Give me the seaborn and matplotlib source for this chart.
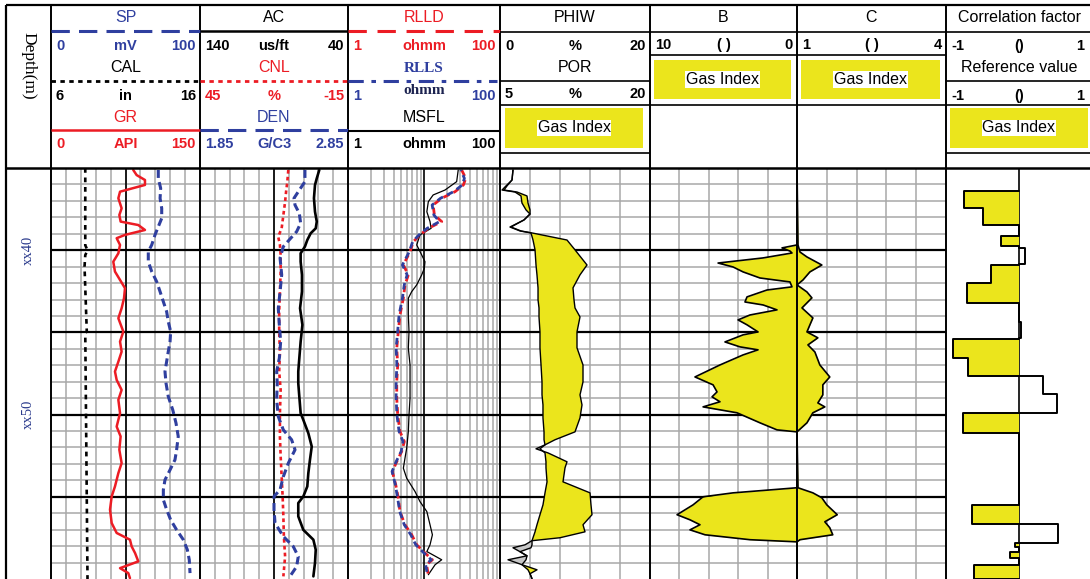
import numpy as np
import pandas as pd
import matplotlib
matplotlib.use("Agg")
import matplotlib.pyplot as plt
from matplotlib.patches import Rectangle
from matplotlib.transforms import blended_transform_factory
import seaborn as sns

# ------------------------------------------------------------------ data
depth_ticks = [40, 50]
depth_labels = ["xx40", "xx50"]

gr_depth = [35.12, 35.43, 35.73, 36.03, 36.44, 36.84, 37.45, 37.86, 38.26, 38.47, 38.77, 39.07,
            39.27, 39.68, 40.19, 40.70, 41.30, 41.81, 42.31, 42.92, 43.53, 44.14, 44.95, 45.56,
            46.17, 46.78, 47.38, 47.89, 48.50, 49.10, 49.91, 50.73, 51.33, 52.14, 52.95, 53.56,
            54.37, 54.98, 55.78, 56.60, 57.20, 57.61, 58.02, 58.42, 58.93, 59.34, 59.64, 59.95]
gr_api = [82.8, 86.2, 94.6, 94.6, 69.5, 67.8, 71.1, 68.8, 70.1, 87.9, 94.6, 74.5,
          66.1, 69.5, 67.8, 62.7, 64.4, 69.5, 74.5, 73.5, 71.1, 67.8, 72.8, 69.5,
          71.1, 67.8, 64.4, 66.1, 71.1, 67.8, 69.5, 66.1, 70.1, 68.8, 71.1, 67.8,
          64.4, 61.1, 59.4, 61.1, 66.1, 79.5, 81.2, 84.6, 87.9, 69.5, 77.8, 79.5]

sp_depth = [35.12, 35.63, 36.23, 36.84, 37.45, 38.06, 38.57, 39.07, 39.68, 40.09, 40.70, 41.30,
            41.91, 42.52, 43.13, 43.73, 44.34, 44.95, 45.56, 46.17, 46.78, 47.38, 48.09, 48.90,
            49.71, 50.52, 51.33, 52.14, 52.75, 53.36, 53.97, 54.57, 55.18, 55.78, 56.40, 57.01,
            57.61, 58.22, 58.83, 59.64]
sp_mv = [72.0, 72.0, 73.6, 73.2, 74.3, 74.3, 72.0, 69.8, 67.6, 65.3, 65.3, 67.6,
         70.9, 73.2, 75.4, 77.6, 78.7, 80.3, 79.9, 78.7, 77.6, 76.5, 77.2, 78.7,
         81.7, 83.9, 85.4, 84.3, 83.2, 79.9, 76.5, 75.4, 75.4, 77.6, 80.3, 84.3,
         88.8, 91.5, 92.8, 93.3]

cal_depth = [35.0, 39.7, 40.0, 40.3, 41.0, 44.9, 45.1, 50.0, 55.0, 60.0]
cal_in = [8.3, 8.3, 8.45, 8.3, 8.25, 8.4, 8.3, 8.35, 8.4, 8.45]

ac_depth = [35.12, 35.63, 36.03, 36.84, 37.66, 38.26, 38.67, 38.97, 39.38, 39.78, 40.19, 40.70,
            41.50, 42.52, 43.53, 44.54, 45.56, 46.57, 47.38, 48.09, 48.90, 49.91, 50.32, 51.13,
            51.94, 52.75, 53.56, 54.37, 54.98, 55.38, 56.19, 57.01, 57.61, 58.22, 59.03, 59.84]
ac_usft = [59.4, 61.1, 62.3, 63.0, 62.3, 61.1, 61.8, 65.2, 67.5, 69.1, 72.0, 72.0,
           71.1, 71.1, 72.4, 70.8, 72.0, 72.9, 73.6, 73.6, 72.9, 72.0, 70.2, 66.8,
           64.5, 65.7, 66.8, 67.5, 70.2, 73.6, 73.6, 70.2, 63.4, 61.8, 62.3, 63.4]

cnl_depth = [35.12, 35.83, 36.44, 37.05, 37.86, 38.67, 39.18, 39.68, 40.29, 41.30, 42.52, 43.73,
             44.95, 46.17, 47.38, 48.50, 49.91, 51.33, 52.55, 53.77, 54.98, 56.19, 57.41, 58.63,
             59.84]
cnl_pct = [9.2, 9.6, 10.1, 10.5, 11.2, 11.9, 13.3, 12.6, 12.3, 12.3, 12.6, 12.9,
           12.9, 12.6, 12.9, 12.3, 12.6, 12.6, 12.3, 11.9, 11.5, 11.2, 11.0, 10.5, 11.2]

den_depth = [35.12, 35.83, 36.44, 36.84, 37.25, 37.76, 38.36, 38.87, 39.27, 39.78, 40.48, 41.50,
             42.52, 43.53, 44.54, 45.56, 46.57, 47.38, 48.09, 49.10, 50.12, 50.93, 51.53, 52.14,
             52.95, 53.77, 54.57, 54.98, 55.78, 56.60, 57.41, 58.02, 58.63, 59.24, 59.84]
den_gcc = [2.559, 2.559, 2.514, 2.485, 2.492, 2.521, 2.530, 2.503, 2.463, 2.413, 2.391, 2.402,
           2.391, 2.379, 2.386, 2.395, 2.386, 2.368, 2.372, 2.368, 2.379, 2.413, 2.469, 2.492,
           2.447, 2.413, 2.391, 2.350, 2.350, 2.357, 2.413, 2.480, 2.514, 2.503, 2.458]

rl_depth = [35.12, 35.63, 36.03, 36.44, 36.84, 37.25, 37.86, 38.26, 38.67, 39.07, 39.48, 40.09,
            40.90, 41.50, 42.11, 42.92, 43.94, 44.95, 45.96, 46.98, 47.99, 49.00, 50.02, 51.03,
            51.64, 52.25, 52.86, 53.46, 54.27, 55.08, 55.90, 56.70, 57.31, 57.92, 58.42, 58.83,
            59.13, 59.74]
rlld_ohmm = [31.3, 35.4, 33.0, 25.6, 17.1, 13.2, 13.7, 17.1, 11.4, 8.85, 7.24, 6.55,
             5.35, 6.22, 5.62, 5.35, 4.83, 4.59, 4.38, 4.51, 4.38, 4.38, 4.51, 4.83,
             5.51, 5.08, 4.38, 3.83, 4.25, 4.59, 4.83, 5.62, 6.89, 8.02, 10.3, 12.9,
             10.8, 11.4]
rlls_ohmm = [30.5, 34.0, 32.0, 24.5, 16.5, 12.8, 13.5, 16.0, 11.0, 8.6, 7.1, 6.4,
             5.2, 6.0, 5.5, 5.2, 4.7, 4.5, 4.3, 4.4, 4.3, 4.3, 4.4, 4.7,
             5.3, 5.0, 4.3, 3.8, 4.2, 4.5, 4.8, 5.5, 6.7, 7.8, 10.0, 12.5,
             10.5, 11.1]

msfl_depth = [35.12, 35.83, 36.34, 36.64, 37.05, 37.66, 38.26, 38.67, 39.07, 39.68, 40.29, 40.70,
              41.10, 41.50, 42.11, 42.52, 42.92, 43.94, 44.95, 45.96, 46.98, 47.99, 49.00, 50.02,
              51.03, 52.04, 52.65, 53.26, 53.87, 54.68, 55.29, 55.90, 56.70, 57.31, 57.92, 58.33,
              58.83, 59.13, 59.74]
msfl_ohmm = [28.2, 26.9, 18.9, 13.2, 11.4, 10.9, 12.0, 12.4, 8.85, 8.02, 9.33, 10.3,
             10.1, 9.33, 8.02, 6.89, 6.22, 6.22, 6.35, 6.22, 6.55, 6.55, 6.55, 6.35,
             6.22, 5.92, 5.62, 5.35, 5.92, 7.62, 8.85, 10.9, 12.0, 12.9, 12.0, 10.9,
             17.1, 14.0, 11.4]

phi_depth = [35.12, 35.73, 36.09, 36.34, 36.46, 36.70, 37.13, 37.55, 37.80, 38.16, 38.59, 38.83,
             38.95, 39.38, 39.98, 40.90, 41.50, 42.29, 43.02, 43.51, 44.06, 44.97, 45.94, 46.98,
             48.01, 48.80, 49.41, 50.20, 51.05, 51.53, 51.84, 52.08, 52.33, 52.87, 53.24, 54.09,
             54.76, 55.49, 56.09, 56.70, 57.13, 57.49, 57.67, 57.92, 58.10, 58.34, 58.59, 58.83,
             59.13, 59.44, 59.68, 59.98]
phiw_pct = [1.73, 1.60, 0.80, 0.27, 2.00, 2.80, 2.93, 3.47, 4.00, 3.20, 1.33, 2.67,
            4.13, 4.40, 4.67, 4.80, 4.93, 5.07, 5.07, 5.20, 5.20, 5.33, 5.33, 5.47,
            5.60, 5.60, 5.73, 5.73, 5.87, 5.87, 6.00, 5.33, 6.00, 6.13, 6.13, 6.27,
            6.00, 5.73, 5.33, 4.93, 4.67, 4.40, 4.27, 4.27, 4.13, 2.67, 3.60, 3.47,
            2.93, 3.73, 4.00, 4.27]
por_pct = [6.3, 6.2, 5.7, 5.4, 6.7, 7.7, 7.8, 8.0, 8.0, 7.4, 6.1, 7.1,
           8.2, 11.7, 12.5, 13.7, 13.0, 12.3, 12.4, 12.5, 13.0, 12.7, 12.7, 13.3,
           13.3, 13.0, 13.2, 13.0, 12.5, 10.5, 9.5, 8.6, 9.8, 11.7, 11.5, 11.3,
           14.0, 14.1, 14.2, 13.3, 13.5, 11.0, 8.2, 7.5, 6.3, 7.0, 7.7, 5.8,
           7.2, 8.7, 8.0, 8.2]

b_depth = [35.0, 39.68, 39.86, 40.05, 40.17, 40.47, 40.78, 41.02, 41.32, 41.69, 41.93, 42.23,
           42.42, 42.84, 43.15, 43.33, 43.63, 43.94, 44.24, 44.54, 44.97, 45.15, 45.58, 45.88,
           46.06, 46.37, 46.98, 47.71, 48.19, 48.62, 48.92, 49.22, 49.53, 49.89, 50.50, 50.93,
           51.05, 54.45, 54.76, 55.00, 55.49, 56.09, 56.40, 56.70, 57.01, 57.31, 57.61, 57.74,
           60.0]
b_val = [0, 0, 1.02, 0.48, 0.34, 2.31, 5.37, 4.35, 3.67, 2.52, 0.48, 0.34,
         2.04, 3.40, 3.54, 2.31, 1.36, 3.20, 4.01, 3.40, 2.65, 3.67, 4.90, 3.88,
         2.65, 3.67, 5.24, 6.94, 5.71, 5.44, 5.78, 5.24, 6.39, 4.08, 2.52, 1.36,
         0, 0, 4.35, 6.39, 7.07, 8.16, 7.28, 6.60, 7.28, 6.26, 3.20, 0,
         0]

c_depth = [35.0, 39.68, 40.11, 40.41, 40.90, 41.32, 41.81, 42.11, 42.54, 42.90, 43.51, 44.12,
           44.54, 44.97, 45.33, 45.76, 46.19, 46.98, 47.71, 48.19, 48.80, 49.29, 49.53, 49.89,
           50.50, 51.05, 54.45, 54.76, 55.06, 55.49, 56.09, 56.52, 56.88, 57.31, 57.61, 57.74,
           60.0]
c_val = [1.0, 1.02, 1.06, 1.20, 1.50, 1.26, 1.12, 1.00, 1.20, 1.30, 1.10, 1.32,
         1.26, 1.20, 1.42, 1.22, 1.36, 1.46, 1.66, 1.52, 1.52, 1.42, 1.56, 1.32,
         1.20, 1.0, 1.02, 1.32, 1.50, 1.60, 1.81, 1.56, 1.66, 1.72, 1.06, 1.0,
         1.0]

corr_top = [36.40, 37.43, 39.13, 39.86, 40.90, 41.99, 44.36, 45.40, 46.55, 47.64, 48.74, 49.89,
            55.49, 56.64, 57.80, 58.34, 59.13]
corr_bot = [37.43, 38.47, 39.74, 40.84, 41.99, 43.21, 45.33, 46.55, 47.64, 48.74, 49.89, 51.11,
            56.64, 57.80, 58.04, 58.71, 60.0]
corr_val = [-0.75, -0.49, -0.25, 0.08, -0.38, -0.71, 0.03, -0.90, -0.70, 0.33, 0.52, -0.77,
            -0.64, 0.53, -0.05, -0.12, -0.61]

# ------------------------------------------------------------------ style
sns.set_theme(style="white")
plt.rcParams["font.family"] = ["Liberation Sans", "DejaVu Sans"]

RED = "#ec1c24"
BLUE = "#2f3f9f"
YEL = "#ebe51c"
GRID = "#a8a8a8"
GRAYFILL = "#c8c8c8"

W, H = 1090, 579
TOP, BOT = 168, 579
DMIN, DMAX = 35, 60
E = [6, 51, 200, 348, 500, 650, 797, 946, 1092]

fig = plt.figure(figsize=(W / 100, H / 100), dpi=100)
fig.patch.set_facecolor("white")
all_axes = []


def add_ax(x0, x1, xlim, log=False, zorder=1):
    ax = fig.add_axes([x0 / W, 1 - BOT / H, (x1 - x0) / W, (BOT - TOP) / H], zorder=zorder)
    if log:
        ax.set_xscale("log")
    ax.set_xlim(*xlim)
    ax.set_ylim(DMAX, DMIN)
    ax.set_facecolor("none")
    for s in ax.spines.values():
        s.set_visible(False)
    ax.grid(False)
    all_axes.append((ax, xlim))
    return ax


def grid_track(x0, x1, xlim, vlines, log=False, center=None, hgrid=True):
    ax = add_ax(x0, x1, xlim, log=log, zorder=1)
    for v in vlines:
        ax.axvline(v, color=GRID, lw=1.1, zorder=1)
    if hgrid:
        for d in range(DMIN + 1, DMAX):
            major = d % 5 == 0
            ax.axhline(d, color="black" if major else GRID, lw=1.6 if major else 1.1,
                       zorder=2 if major else 1)
    if center is not None:
        ax.axvline(center, color="black", lw=1.2, zorder=2)
    return ax


def curve(ax, x, d, color, lw, ls="-", z=5):
    sns.lineplot(x=x, y=d, orient="y", sort=False, estimator=None, ax=ax,
                 color=color, lw=lw, linestyle=ls, zorder=z)


# ---- track 1: SP / CAL / GR
ax1 = grid_track(E[1], E[2], (0, 150), np.arange(15, 150, 15), center=75)
curve(ax1, gr_api, gr_depth, RED, 1.8)
ax1b = add_ax(E[1], E[2], (0, 100), zorder=2)
curve(ax1b, sp_mv, sp_depth, BLUE, 2.2, (0, (2.6, 1.4)))
ax1c = add_ax(E[1], E[2], (6, 16), zorder=2)
curve(ax1c, cal_in, cal_depth, "black", 1.9, (0, (1.8, 1.8)))

# ---- track 2: AC / CNL / DEN
ax2 = grid_track(E[2], E[3], (140, 40), np.arange(130, 40, -10), center=90)
curve(ax2, ac_usft, ac_depth, "black", 1.9)
ax2b = add_ax(E[2], E[3], (45, -15), zorder=2)
curve(ax2b, cnl_pct, cnl_depth, RED, 1.9, (0, (1.4, 1.2)))
ax2c = add_ax(E[2], E[3], (1.85, 2.85), zorder=2)
curve(ax2c, den_gcc, den_depth, BLUE, 2.2, (0, (2.6, 1.4)))

# ---- track 3: resistivity (log)
log_lines = [v * m for m in (1, 10) for v in range(2, 10)]
ax3 = grid_track(E[3], E[4], (1, 100), log_lines, log=True, center=10)
curve(ax3, msfl_ohmm, msfl_depth, "black", 0.9, z=4)
curve(ax3, rlld_ohmm, rl_depth, RED, 2.0, (0, (2.4, 1.6)), z=5)
curve(ax3, rlls_ohmm, rl_depth, BLUE, 2.0, (2.0, (2.4, 1.6)), z=6)

# ---- track 4: PHIW / POR
ax4 = grid_track(E[4], E[5], (0, 20), [4, 8, 12, 16])
phiw = np.array(phiw_pct)
por_eq = (np.array(por_pct) - 5) / 15 * 20   # POR expressed on the PHIW track scale
ax4.fill_betweenx(phi_depth, phiw, por_eq, where=por_eq >= phiw, interpolate=True,
                  color=YEL, lw=0, zorder=3)
ax4.fill_betweenx(phi_depth, phiw, por_eq, where=por_eq < phiw, interpolate=True,
                  color=GRAYFILL, lw=0, zorder=3)
curve(ax4, phiw_pct, phi_depth, "black", 1.0)
ax4b = add_ax(E[4], E[5], (5, 20), zorder=2)
curve(ax4b, por_pct, phi_depth, "black", 1.0)

# ---- track 5: B (10 -> 0)
ax5 = grid_track(E[5], E[6], (10, 0), [8, 6, 4, 2])
ax5.fill_betweenx(b_depth, b_val, 0, color=YEL, lw=0, zorder=3)
curve(ax5, b_val, b_depth, "black", 1.2)

# ---- track 6: C (1 -> 4)
ax6 = grid_track(E[6], E[7], (1, 4), [1.6, 2.2, 2.8, 3.4])
ax6.fill_betweenx(c_depth, 1, c_val, color=YEL, lw=0, zorder=3)
curve(ax6, c_val, c_depth, "black", 1.2)

# ---- track 7: correlation factor (step blocks)
ax7 = grid_track(E[7], E[8], (-1, 1), [], center=0, hgrid=False)
sx, sy = [0.0], [corr_top[0]]
prev_b, prev_v = None, None
for t, b, v in zip(corr_top, corr_bot, corr_val):
    if prev_b is not None and not (abs(t - prev_b) < 1e-6 and np.sign(v) == np.sign(prev_v)):
        sx += [0.0, 0.0]
        sy += [prev_b, t]
    sx += [v, v]
    sy += [t, b]
    prev_b, prev_v = b, v
    if v < 0:
        ax7.fill_betweenx([t, b], [v, v], 0, color=YEL, lw=0, zorder=3)
sx.append(0.0)
sy.append(prev_b)
curve(ax7, sx, sy, "black", 1.4)

# ---- depth column
axd = add_ax(E[0], E[1], (0, 1))
for dt, dl in zip(depth_ticks, depth_labels):
    axd.text(0.5, dt, dl, rotation=90, ha="center", va="center", fontsize=10.5,
             color="#2a3a8c", family="Liberation Serif",
             transform=blended_transform_factory(axd.transAxes, axd.transData))

# clean all data axes
for ax, xl in all_axes:
    ax.set_xlim(*xl)
    ax.set_ylim(DMAX, DMIN)
    ax.set_xlabel("")
    ax.set_ylabel("")
    ax.tick_params(left=False, bottom=False, labelleft=False, labelbottom=False,
                   which="both")
    ax.set_xticks([])
    ax.set_yticks([])
    ax.minorticks_off()

# ------------------------------------------------------------------ header / frame overlay
hd = fig.add_axes([0, 0, 1, 1], zorder=20)
hd.set_xlim(0, W)
hd.set_ylim(H, 0)
hd.axis("off")


def hline(x0, x1, y, color="black", lw=1.2, ls="-"):
    hd.plot([x0, x1], [y, y], color=color, lw=lw, linestyle=ls,
            solid_capstyle="butt", dash_capstyle="butt")


def vline(x, y0, y1, lw=1.4):
    hd.plot([x, x], [y0, y1], color="black", lw=lw, solid_capstyle="butt")


def label(x, y, s, color="black", size=11.5, weight="normal", family=None, ha="center",
          bbox=None):
    hd.text(x, y, s, color=color, ha=ha, va="center", fontsize=size, fontweight=weight,
            family=family if family else ["Liberation Sans", "DejaVu Sans"], bbox=bbox)


def row(i, y, left, mid, right, color="black", midcolor=None, midfamily=None, midweight="bold"):
    x0, x1 = E[i], min(E[i + 1], W)
    if i == 7:
        x1 = 1088
    label(x0 + 5, y, left, color, size=10.5, weight="bold", ha="left")
    label((E[i] + E[i + 1]) / 2, y, mid, midcolor or color, size=10.5, weight=midweight,
          family=midfamily)
    label(x1 - 4, y, right, color, size=10.5, weight="bold", ha="right")


def title(i, y, s, color="black", **kw):
    label((E[i] + E[i + 1]) / 2, y, s, color, **kw)


def gas_box(x0, y0, x1, y1):
    hd.add_patch(Rectangle((x0, y0), x1 - x0, y1 - y0, facecolor=YEL, edgecolor="none"))
    label((x0 + x1) / 2, (y0 + y1) / 2, "Gas Index", "black", size=11.5,
          bbox=dict(facecolor="white", edgecolor="none", pad=0.6))


# frame
hline(E[0], W, 5, lw=1.6)
hline(E[0], W, 168, lw=1.8)
vline(E[0], 5, H, lw=1.6)
for x in E[1:8]:
    vline(x, 5, H)

label(28, 66, "Depth(m)", "black", size=12.5, family="Liberation Serif")
hd.texts[-1].set_rotation(-90)

# track 1
title(1, 18, "SP", BLUE)
hline(E[1], E[2], 31, BLUE, 2.2, (0, (6, 3)))
row(1, 46, "0", "mV", "100", BLUE)
title(1, 68, "CAL")
hline(E[1], E[2], 81, "black", 2.0, (0, (1.6, 1.6)))
row(1, 96, "6", "in", "16")
title(1, 117, "GR", RED)
hline(E[1], E[2], 130, RED, 1.8)
row(1, 144, "0", "API", "150", RED)

# track 2
title(2, 18, "AC")
hline(E[2], E[3], 31, "black", 1.8)
row(2, 46, "140", "us/ft", "40")
title(2, 68, "CNL", RED)
hline(E[2], E[3], 81, RED, 2.0, (0, (1.6, 1.6)))
row(2, 96, "45", "%", "-15", RED)
title(2, 117, "DEN", BLUE)
hline(E[2], E[3], 130, BLUE, 2.2, (0, (6, 3)))
row(2, 144, "1.85", "G/C3", "2.85", BLUE)

# track 3
title(3, 18, "RLLD", RED)
hline(E[3], E[4], 31, RED, 2.2, (0, (6, 3.5)))
row(3, 46, "1", "ohmm", "100", RED)
title(3, 68, "RLLS", BLUE, size=11, weight="bold", family="Liberation Serif")
hline(E[3], E[4] - 3, 81, BLUE, 2.2, (0, (5, 2.5, 1.5, 2.5)))
row(3, 96, "1", "", "100", BLUE)
label((E[3] + E[4]) / 2, 91, "ohmm", "#1c2350", size=11, weight="bold", family="Liberation Serif")
title(3, 117, "MSFL")
hline(E[3], E[4], 131, "black", 1.5)
row(3, 144, "1", "ohmm", "100")

# track 4
title(4, 18, "PHIW")
hline(E[4], E[5], 32, "black", 1.2)
row(4, 46, "0", "%", "20")
title(4, 68, "POR")
hline(E[4], E[5], 81, "black", 1.2)
row(4, 94, "5", "%", "20")
hline(E[4], E[5], 105, "black", 1.2)
gas_box(505, 108, 643, 148)
hline(E[4], E[5], 153, "black", 1.2)

# track 5
title(5, 18, "B")
hline(E[5], E[6], 32, "black", 1.2)
row(5, 45, "10", "( )", "0")
hline(E[5], E[6], 55, "black", 1.2)
gas_box(654, 60, 791, 99)
hline(E[5], E[6], 105, "black", 1.2)

# track 6
title(6, 18, "C")
hline(E[6], E[7], 32, "black", 1.2)
row(6, 45, "1", "( )", "4")
hline(E[6], E[7], 55, "black", 1.2)
gas_box(801, 60, 940, 99)
hline(E[6], E[7], 105, "black", 1.2)

# track 7
title(7, 18, "Correlation factor")
hline(E[7], W, 32, "black", 1.2)
row(7, 46, "-1", "()", "1")
title(7, 68, "Reference value")
hline(E[7], W, 81, "black", 1.2)
row(7, 96, "-1", "()", "1")
hline(E[7], W, 105, "black", 1.2)
gas_box(950, 108, 1088, 148)
hline(E[7], W, 153, "black", 1.2)

fig.savefig("out.png", dpi=100, facecolor="white")
